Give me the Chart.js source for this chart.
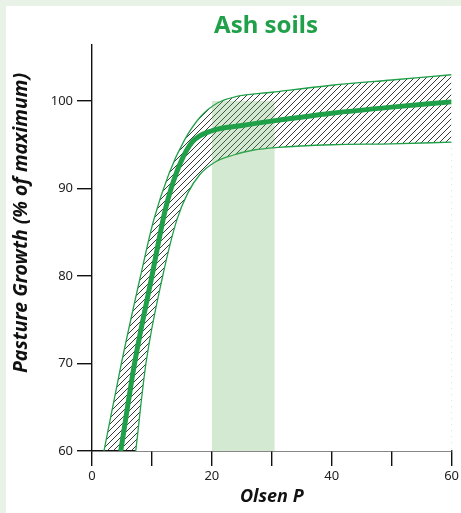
<!DOCTYPE html>
<html>
<head>
<meta charset="utf-8">
<script src="https://cdn.jsdelivr.net/npm/chart.js@4"></script>
<style>
  body { margin: 0; background: #e8f2e6; }
  #wrap { position: absolute; left: 0; top: 0; width: 461px; height: 513px; }
  #panel { position: absolute; left: 6px; top: 6px; right: 0; bottom: 0; background: #ffffff; }
  #growthChart { position: absolute; left: 0; top: 0; }
</style>
</head>
<body>
<div id="wrap">
  <div id="panel"></div>
  <canvas id="growthChart" width="461" height="513"></canvas>
</div>
<script>
// response curve (Olsen P vs % of max growth)
const mainP = [4.8, 7.1, 10.0, 12.2, 13.2, 14.8, 16.7, 20, 25, 30, 40, 50, 60];
const mainGrowth = [60, 70, 80, 87.5, 90, 93, 95.3, 96.6, 97.2, 97.7, 98.6, 99.3, 99.9];

// upper and lower edge of the hatched band
const upperP = [2.0, 4.9, 8.1, 10.3, 12.9, 15.4, 18.1, 21, 24, 30, 40, 50, 60];
const upperGrowth = [60, 70, 80, 86.4, 91.8, 95.5, 98.2, 99.8, 100.5, 101.0, 101.8, 102.4, 103.0];
const lowerP = [7.3, 9.0, 11.8, 14.2, 16.0, 18.0, 20.5, 23.5, 27, 31, 40, 50, 60];
const lowerGrowth = [60, 70, 80, 86.5, 89.5, 91.6, 93, 93.8, 94.4, 94.7, 95.0, 95.1, 95.3];

// optimum range
const optimumP = [20, 30.5];
const optimumGrowth = [100, 100];

const xTicks = [0, 20, 40, 60];
const yTicks = [60, 70, 80, 90, 100];

const GREEN = "#1fa049";
const FONT = "'Noto Sans', sans-serif";

function toPoints(xs, ys) {
    return xs.map((x, i) => ({ x: x, y: ys[i] }));
}

function makeHatch() {
    const c = document.createElement("canvas");
    c.width = 6;
    c.height = 6;
    const g = c.getContext("2d");
    g.strokeStyle = "#222";
    g.lineWidth = 0.9;
    g.beginPath();
    g.moveTo(0, 6); g.lineTo(6, 0);
    g.moveTo(-1, 1); g.lineTo(1, -1);
    g.moveTo(5, 7); g.lineTo(7, 5);
    g.stroke();
    return g.createPattern(c, "repeat");
}

// chart title and y title sit off-centre in the original, so draw them by hand
const titlesPlugin = {
    id: "titles",
    afterDraw(chart) {
        const ctx = chart.ctx;
        ctx.save();
        ctx.textAlign = "center";
        ctx.textBaseline = "middle";
        ctx.fillStyle = GREEN;
        ctx.font = "bold 24px " + FONT;
        ctx.fillText("Ash soils", 266, 26);

        ctx.translate(21, 223);
        ctx.rotate(-Math.PI / 2);
        ctx.fillStyle = "#111";
        ctx.font = "italic bold 19.5px " + FONT;
        ctx.fillText("Pasture Growth (% of maximum)", 0, 0);
        ctx.restore();
    }
};

const ctx = document.getElementById("growthChart");

new Chart(ctx, {
    type: "line",
    data: {
        datasets: [
            {
                label: "upper",
                data: toPoints(upperP, upperGrowth),
                borderColor: GREEN,
                borderWidth: 1.3,
                backgroundColor: makeHatch(),
                fill: "start",
                pointRadius: 0,
                cubicInterpolationMode: "monotone",
                order: 4
            },
            {
                label: "lower",
                data: toPoints(lowerP, lowerGrowth),
                borderColor: GREEN,
                borderWidth: 1.3,
                backgroundColor: "#ffffff",
                fill: "start",
                pointRadius: 0,
                cubicInterpolationMode: "monotone",
                order: 3
            },
            {
                label: "optimum",
                data: toPoints(optimumP, optimumGrowth),
                borderWidth: 0,
                backgroundColor: "rgba(100, 175, 90, 0.28)",
                fill: "start",
                pointRadius: 0,
                order: 2
            },
            {
                label: "growth",
                data: toPoints(mainP, mainGrowth),
                borderColor: GREEN,
                borderWidth: 5,
                fill: false,
                pointRadius: 0,
                cubicInterpolationMode: "monotone",
                order: 1
            }
        ]
    },
    options: {
        responsive: false,
        animation: false,
        layout: { padding: { left: 0, right: 9, top: 45, bottom: 0 } },
        plugins: {
            legend: { display: false },
            tooltip: { enabled: false },
            title: { display: false }
        },
        scales: {
            x: {
                type: "linear",
                min: 0,
                max: 60,
                z: 1,
                border: { display: true, color: "#111", width: 1.4 },
                grid: { drawOnChartArea: false, drawTicks: true, tickLength: 15, color: "#111", lineWidth: 1.4 },
                ticks: {
                    stepSize: 10,
                    padding: 2,
                    color: "#222",
                    font: { family: FONT, size: 13 },
                    maxRotation: 0,
                    autoSkip: false,
                    callback: v => xTicks.includes(v) ? String(v) : ""
                },
                title: {
                    display: true,
                    text: "Olsen P",
                    color: "#111",
                    font: { family: FONT, size: 18, style: "italic", weight: "bold" },
                    padding: { top: 0, bottom: 5 }
                },
                afterFit(scale) { scale.height = 62; }
            },
            y: {
                type: "linear",
                min: 60,
                max: 106.4,
                z: 1,
                border: { display: true, color: "#111", width: 1.4 },
                grid: { drawOnChartArea: false, drawTicks: true, tickLength: 15, color: "#111", lineWidth: 1.4 },
                ticks: {
                    stepSize: 10,
                    includeBounds: false,
                    padding: 4,
                    color: "#222",
                    font: { family: FONT, size: 13 },
                    callback: v => yTicks.includes(v) ? String(v) : ""
                },
                afterFit(scale) { scale.width = 92; }
            }
        }
    },
    plugins: [titlesPlugin]
});
</script>
</body>
</html>
